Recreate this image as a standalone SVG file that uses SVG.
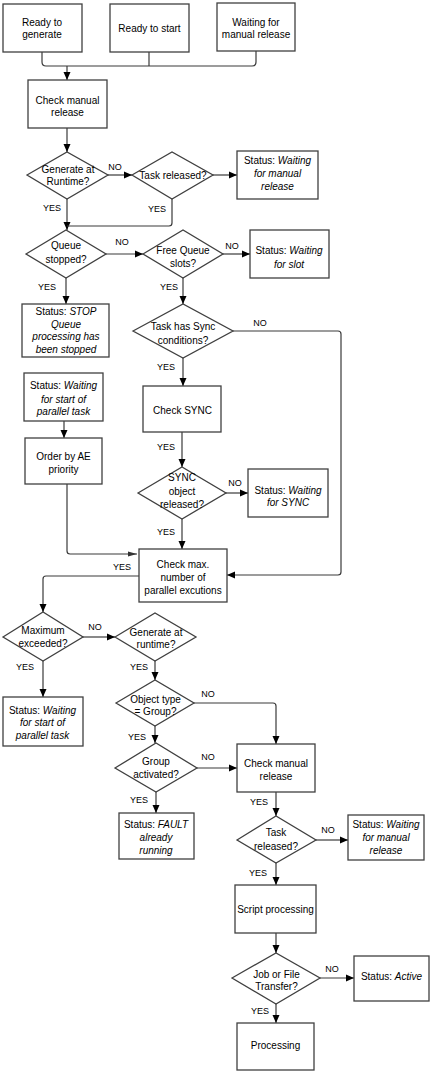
<svg xmlns="http://www.w3.org/2000/svg" width="431" height="1074" viewBox="0 0 431 1074">
<style>
.b{fill:#fff;stroke:#404040;stroke-width:1.3}
.c{fill:none;stroke:#3a3a3a;stroke-width:1.2}
.t{font-family:"Liberation Sans",Arial,sans-serif;font-size:10px;fill:#000;text-anchor:middle}
.i{font-style:italic}
.l{font-family:"Liberation Sans",Arial,sans-serif;font-size:9px;fill:#000;text-anchor:middle}
</style>
<defs>
<marker id="a" markerUnits="userSpaceOnUse" markerWidth="8" markerHeight="8" refX="8" refY="4" orient="auto">
<path d="M0,0.5 L8,4 L0,7.5 z" fill="#000"/>
</marker>
<marker id="s" markerUnits="userSpaceOnUse" markerWidth="9" markerHeight="6" refX="9" refY="3" orient="auto">
<path d="M0,0.5 L9,3 L0,5.5 z" fill="#333"/>
</marker>
</defs>
<rect width="431" height="1074" fill="#fff"/>
<g id="connectors">
<path class="c" d="M42,52 V62 Q42,66 46,66 H252 Q256,66 256,62 V51"/>
<path class="c" d="M149,52 V66"/>
<path class="c" d="M67,66 V80" marker-end="url(#a)"/>
<path class="c" d="M67,128 V152" marker-end="url(#a)"/>
<path class="c" d="M108,175 H132" marker-end="url(#a)"/>
<path class="c" d="M213,175 H237" marker-end="url(#a)"/>
<path class="c" d="M67,199 V230" marker-end="url(#a)"/>
<path class="c" d="M172,199 V223 Q172,226 169,226 H67"/>
<path class="c" d="M106,254 H143" marker-end="url(#a)"/>
<path class="c" d="M223,254 H250" marker-end="url(#a)"/>
<path class="c" d="M66,278 V304" marker-end="url(#a)"/>
<path class="c" d="M183,278 V304" marker-end="url(#a)"/>
<path class="c" d="M233,331 H338 Q341,331 341,334 V572 Q341,575 338,575 H227" marker-end="url(#a)"/>
<path class="c" d="M183,358 V386" marker-end="url(#a)"/>
<path class="c" d="M182,432 V467" marker-end="url(#a)"/>
<path class="c" d="M226,493 H248" marker-end="url(#a)"/>
<path class="c" d="M182,519 V549" marker-end="url(#a)"/>
<path class="c" d="M64,421 V438" marker-end="url(#a)"/>
<path class="c" d="M67,484 V551 Q67,554 70,554 H137" marker-end="url(#s)"/>
<path class="c" d="M139,576 H46 Q43,576 43,579 V612" marker-end="url(#a)"/>
<path class="c" d="M83,637 H115" marker-end="url(#a)"/>
<path class="c" d="M43,661 V697" marker-end="url(#a)"/>
<path class="c" d="M155,661 V680" marker-end="url(#a)"/>
<path class="c" d="M194,703 H273 Q276,703 276,706 V744" marker-end="url(#a)"/>
<path class="c" d="M155,726 V743" marker-end="url(#a)"/>
<path class="c" d="M197,768 H237" marker-end="url(#a)"/>
<path class="c" d="M156,792 V813" marker-end="url(#a)"/>
<path class="c" d="M276,792 V816" marker-end="url(#a)"/>
<path class="c" d="M316,840 H348" marker-end="url(#a)"/>
<path class="c" d="M276,863 V885" marker-end="url(#a)"/>
<path class="c" d="M276,933 V953" marker-end="url(#a)"/>
<path class="c" d="M320,978 H354" marker-end="url(#a)"/>
<path class="c" d="M276,1004 V1023" marker-end="url(#a)"/>
<g id="labels">
<text class="l" x="115" y="170">NO</text>
<text class="l" x="52" y="211">YES</text>
<text class="l" x="157" y="212">YES</text>
<text class="l" x="122" y="245">NO</text>
<text class="l" x="232" y="249">NO</text>
<text class="l" x="47" y="290">YES</text>
<text class="l" x="169" y="290">YES</text>
<text class="l" x="260" y="326">NO</text>
<text class="l" x="166" y="370">YES</text>
<text class="l" x="166" y="450">YES</text>
<text class="l" x="235" y="486">NO</text>
<text class="l" x="166" y="535">YES</text>
<text class="l" x="122" y="570">YES</text>
<text class="l" x="95" y="630">NO</text>
<text class="l" x="25" y="670">YES</text>
<text class="l" x="139" y="670">YES</text>
<text class="l" x="208" y="697">NO</text>
<text class="l" x="137" y="740">YES</text>
<text class="l" x="208" y="760">NO</text>
<text class="l" x="139" y="803">YES</text>
<text class="l" x="259" y="805">YES</text>
<text class="l" x="328" y="833">NO</text>
<text class="l" x="258" y="876">YES</text>
<text class="l" x="332" y="972">NO</text>
<text class="l" x="260" y="1014">YES</text>
</g>
</g>
<g id="n_ready_gen"><rect class="b" x="3" y="4" width="79" height="48"/><text class="t" x="42" y="25.5">Ready to</text><text class="t" x="42" y="38">generate</text></g>
<g id="n_ready_start"><rect class="b" x="110" y="4" width="79" height="48"/><text class="t" x="149.5" y="32">Ready to start</text></g>
<g id="n_wait_manual"><rect class="b" x="217" y="3" width="78" height="48"/><text class="t" x="256" y="25.5">Waiting for</text><text class="t" x="256" y="38">manual release</text></g>
<g id="n_check_manual"><rect class="b" x="28" y="80" width="79" height="48"/><text class="t" x="67.5" y="103.5">Check manual</text><text class="t" x="67.5" y="116">release</text></g>
<g id="d_gen_runtime"><polygon class="b" points="27,175 67,152 108,175 67,199"/><text class="t" x="68" y="172.5">Generate at</text><text class="t" x="68" y="185">Runtime?</text></g>
<g id="d_task_released"><polygon class="b" points="132,175 172,152 213,175 172,199"/><text class="t" x="173" y="179">Task released?</text></g>
<g id="s_wait_manual"><rect class="b" x="237" y="151" width="81" height="48"/><text class="t" x="277.5" y="164">Status: <tspan class="i">Waiting</tspan></text><text class="t i" x="277.5" y="177">for manual</text><text class="t i" x="277.5" y="190">release</text></g>
<g id="d_queue_stopped"><polygon class="b" points="26,254 66,230 106,254 66,278"/><text class="t" x="66" y="249">Queue</text><text class="t" x="66" y="262.5">stopped?</text></g>
<g id="d_free_queue"><polygon class="b" points="143,254 183,230 223,254 183,278"/><text class="t" x="183" y="253.5">Free Queue</text><text class="t" x="183" y="266.5">slots?</text></g>
<g id="s_wait_slot"><rect class="b" x="250" y="230" width="79" height="48"/><text class="t" x="289" y="254">Status: <tspan class="i">Waiting</tspan></text><text class="t i" x="289" y="267.5">for slot</text></g>
<g id="s_stop"><rect class="b" x="22" y="304" width="87" height="53"/><text class="t" x="66" y="314.5">Status: <tspan class="i">STOP</tspan></text><text class="t i" x="66" y="327.5">Queue</text><text class="t i" x="66" y="340">processing has</text><text class="t i" x="66" y="352.5">been stopped</text></g>
<g id="d_sync_cond"><polygon class="b" points="133,331 183,304 233,331 183,358"/><text class="t" x="183" y="330">Task has Sync</text><text class="t" x="183" y="343.5">conditions?</text></g>
<g id="s_wait_parallel1"><rect class="b" x="24" y="373" width="79" height="48"/><text class="t" x="63.5" y="389">Status: <tspan class="i">Waiting</tspan></text><text class="t i" x="63.5" y="402.5">for start of</text><text class="t i" x="63.5" y="415">parallel task</text></g>
<g id="n_order_ae"><rect class="b" x="25" y="438" width="77" height="46"/><text class="t" x="63.5" y="459.5">Order by AE</text><text class="t" x="63.5" y="472.5">priority</text></g>
<g id="n_check_sync"><rect class="b" x="143" y="386" width="78" height="46"/><text class="t" x="182.5" y="413.5">Check SYNC</text></g>
<g id="d_sync_released"><polygon class="b" points="138,493 182,467 226,493 182,519"/><text class="t" x="182" y="481">SYNC</text><text class="t" x="182" y="494.5">object</text><text class="t" x="182" y="507.5">released?</text></g>
<g id="s_wait_sync"><rect class="b" x="248" y="469" width="80" height="48"/><text class="t" x="288" y="493.5">Status: <tspan class="i">Waiting</tspan></text><text class="t i" x="288" y="505.5">for SYNC</text></g>
<g id="n_check_max"><rect class="b" x="139" y="549" width="88" height="53"/><text class="t" x="183" y="567.5">Check max.</text><text class="t" x="183" y="580.5">number of</text><text class="t" x="183" y="593.5">parallel excutions</text></g>
<g id="d_max_exceeded"><polygon class="b" points="3,637 43,612 83,637 43,661"/><text class="t" x="43" y="633.5">Maximum</text><text class="t" x="43" y="646.5">exceeded?</text></g>
<g id="d_gen_runtime2"><polygon class="b" points="115,637 155,613 196,637 155,661"/><text class="t" x="156" y="635.5">Generate at</text><text class="t" x="156" y="648">runtime?</text></g>
<g id="s_wait_parallel2"><rect class="b" x="3" y="697" width="80" height="49"/><text class="t" x="42.5" y="713.5">Status: <tspan class="i">Waiting</tspan></text><text class="t i" x="42.5" y="726">for start of</text><text class="t i" x="42.5" y="738.5">parallel task</text></g>
<g id="d_obj_type"><polygon class="b" points="116,703 155,680 194,703 155,726"/><text class="t" x="155.5" y="702.5">Object type</text><text class="t" x="155.5" y="715">= Group?</text></g>
<g id="d_group_activated"><polygon class="b" points="115,768 156,743 197,768 156,792"/><text class="t" x="156" y="764.5">Group</text><text class="t" x="156" y="777.5">activated?</text></g>
<g id="n_check_manual2"><rect class="b" x="237" y="744" width="78" height="48"/><text class="t" x="276" y="767">Check manual</text><text class="t" x="276" y="779.5">release</text></g>
<g id="s_fault"><rect class="b" x="119" y="813" width="75" height="46"/><text class="t" x="156" y="828">Status: <tspan class="i">FAULT</tspan></text><text class="t i" x="156" y="841">already</text><text class="t i" x="156" y="853.5">running</text></g>
<g id="d_task_released2"><polygon class="b" points="237,840 276,816 316,840 276,863"/><text class="t" x="276" y="836">Task</text><text class="t" x="276" y="849.5">released?</text></g>
<g id="s_wait_manual2"><rect class="b" x="348" y="815" width="76" height="45"/><text class="t" x="386" y="827.5">Status: <tspan class="i">Waiting</tspan></text><text class="t i" x="386" y="841">for manual</text><text class="t i" x="386" y="853.5">release</text></g>
<g id="n_script"><rect class="b" x="235" y="885" width="81" height="48"/><text class="t" x="275.5" y="912.5">Script processing</text></g>
<g id="d_job_file"><polygon class="b" points="232,978 276,953 320,978 276,1004"/><text class="t" x="276.5" y="977.5">Job or File</text><text class="t" x="276.5" y="990">Transfer?</text></g>
<g id="s_active"><rect class="b" x="354" y="956" width="75" height="45"/><text class="t" x="391.5" y="980">Status: <tspan class="i">Active</tspan></text></g>
<g id="n_processing"><rect class="b" x="237" y="1023" width="77" height="47"/><text class="t" x="275.5" y="1049">Processing</text></g>
</svg>
